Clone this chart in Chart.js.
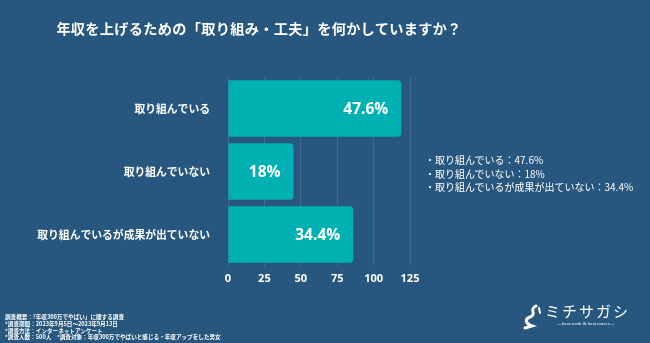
<!DOCTYPE html>
<html>
<head>
<meta charset="utf-8">
<script src="https://cdn.jsdelivr.net/npm/chart.js@4"></script>
<style>
  html, body { margin: 0; padding: 0; }
  body { width: 650px; height: 343px; background: #27577f; position: relative; overflow: hidden;
         font-family: "Noto Sans CJK JP", "Noto Sans", sans-serif; color: #fff; }
  #title { position: absolute; left: 0; top: 18px; width: 518px; text-align: center;
           font-size: 14.2px; font-weight: bold; letter-spacing: 0.3px; }
  #wrap { position: absolute; left: 0; top: 0; width: 650px; height: 343px; }
  #notes { position: absolute; left: 425px; top: 153px; font-size: 10px; line-height: 13.5px; }
  #foot { position: absolute; left: 5px; top: 314px; font-size: 5.6px; line-height: 6.8px; font-weight: bold; }
  #logo { position: absolute; left: 520px; top: 300px; width: 120px; }
  #logo .name { position: absolute; left: 25px; top: 0; font-size: 15px; letter-spacing: 2px; }
  #logo .sub { position: absolute; left: 37px; top: 21px; font-size: 5px; font-family: "Liberation Serif", serif; }
</style>
</head>
<body>
<div id="wrap"><canvas id="myChart" width="650" height="343"></canvas></div>
<div id="title">年収を上げるための「取り組み・工夫」を何かしていますか？</div>
<div id="notes"></div>
<div id="foot">
  調査概要：「年収300万でやばい」に関する調査<br>
  *調査期間：2023年9月5日～2023年9月13日<br>
  *調査方法：インターネットアンケート<br>
  *調査人数：500人　*調査対象：年収300万でやばいと感じる・年収アップをした男女
</div>
<div id="logo">
  <svg width="22" height="26" viewBox="0 0 22 26" style="position:absolute;left:2px;top:4px">
    <path d="M14 2 C6 6 16 10 8 13 C2 15 4 20 10 22 L3 24" stroke="#fff" stroke-width="3" fill="none" stroke-linecap="round"/>
    <path d="M17 4 L18 9" stroke="#fff" stroke-width="2" stroke-linecap="round"/>
  </svg>
  <div class="name">ミチサガシ</div>
  <div class="sub">—best work &amp; best career—</div>
</div>
<script>
// data
const labels = ['取り組んでいる', '取り組んでいない', '取り組んでいるが成果が出ていない'];
const counts = [119, 45, 86];
const percents = ['47.6%', '18%', '34.4%'];
const ticks = [0, 25, 50, 75, 100, 125];

// right side summary lines
document.getElementById('notes').innerHTML = labels.map((l, i) => '・' + l + '：' + percents[i]).join('<br>');

// draws the percentage inside each bar
const barText = {
  id: 'barText',
  afterDatasetsDraw(chart) {
    const ctx = chart.ctx;
    const meta = chart.getDatasetMeta(0);
    ctx.save();
    ctx.fillStyle = '#fff';
    ctx.font = 'bold 15.5px "Open Sans", sans-serif';
    ctx.textAlign = 'right';
    ctx.textBaseline = 'middle';
    meta.data.forEach((bar, i) => {
      ctx.fillText(percents[i], bar.x - 13, bar.y + 1);
    });
    ctx.restore();
  }
};

new Chart(document.getElementById('myChart'), {
  type: 'bar',
  data: {
    labels: labels,
    datasets: [{
      data: counts,
      backgroundColor: '#00b1b4',
      borderRadius: 4,
      borderSkipped: 'start',
      barPercentage: 0.9,
      categoryPercentage: 1
    }]
  },
  options: {
    indexAxis: 'y',
    responsive: false,
    animation: false,
    layout: { padding: { top: 77, right: 240, bottom: 53, left: 0 } },
    plugins: { legend: { display: false }, tooltip: { enabled: false } },
    scales: {
      x: {
        min: 0, max: 125,
        afterBuildTicks: (s) => { s.ticks = ticks.map(v => ({ value: v })); },
        afterFit: (s) => { s.height = 24; },
        grid: { color: 'rgba(255,255,255,0.12)', drawTicks: false },
        border: { display: false },
        ticks: { color: '#fff', padding: 6, font: { family: 'Open Sans', size: 11, weight: 'bold' } }
      },
      y: {
        afterFit: (s) => { s.width = 228; },
        grid: { display: false },
        border: { display: false },
        ticks: { color: '#fff', padding: 10, font: { family: 'Noto Sans CJK JP', size: 10.8, weight: 'bold' } }
      }
    }
  },
  plugins: [barText]
});
</script>
</body>
</html>
